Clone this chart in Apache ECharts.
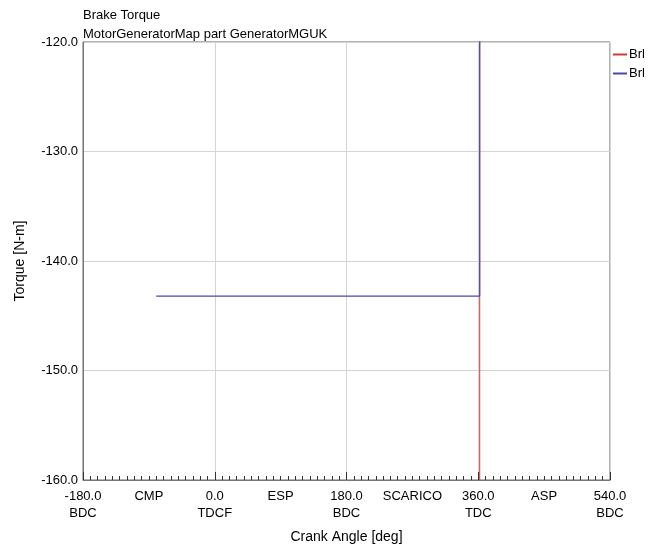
<!DOCTYPE html>
<html><head><meta charset="utf-8">
<script src="https://cdn.jsdelivr.net/npm/echarts@6/dist/echarts.min.js"></script>
<style>html,body{margin:0;padding:0;background:#fff}#c{width:660px;height:552px}</style>
</head><body><div id="c"></div>
<script>
const titleText = 'Brake Torque';
const subtitleText = 'MotorGeneratorMap part GeneratorMGUK';
const xTickValues = [-180, -90, 0, 90, 180, 270, 360, 450, 540];
const xTickLabels = ['-180.0\nBDC', 'CMP', '0.0\nTDCF', 'ESP', '180.0\nBDC', 'SCARICO', '360.0\nTDC', 'ASP', '540.0\nBDC'];
const seriesNames = ['Brl', 'Brl\u200b'];
const redX = [362, 362];
const redY = [-100, -200];
const blueX = [-80, 362, 362];
const blueY = [-143.2, -143.2, -100];

const font = 'Liberation Sans, Arial, sans-serif';
const chart = echarts.init(document.getElementById('c'), null, {renderer: 'canvas'});
const labelMap = {};
xTickValues.forEach((v, i) => labelMap[v] = xTickLabels[i]);
const baseX = {type: 'value', min: -180, max: 540, position: 'bottom'};
chart.setOption({
  animation: false,
  textStyle: {fontFamily: font},
  title: [
    {text: titleText, left: 78, top: 4, textStyle: {fontSize: 13, fontWeight: 'normal', color: '#000', fontFamily: font}},
    {text: subtitleText, left: 78, top: 23, textStyle: {fontSize: 13, fontWeight: 'normal', color: '#000', fontFamily: font}}
  ],
  legend: {
    orient: 'vertical', left: 613, top: 48, itemGap: 6, itemWidth: 14, itemHeight: 2, padding: 0,
    icon: 'rect',
    textStyle: {fontSize: 13, color: '#000', fontFamily: font, padding: [0, 0, 0, -3]},
    data: seriesNames
  },
  grid: {left: 83, right: 50, top: 42, bottom: 72, show: true, borderColor: '#666', borderWidth: 1},
  xAxis: [
    Object.assign({}, baseX, {
      interval: 10,
      axisLine: {show: true, onZero: false, lineStyle: {color: '#777'}},
      axisTick: {show: true, inside: true, length: 4, lineStyle: {color: '#333'}},
      axisLabel: {show: false}, splitLine: {show: false}
    }),
    Object.assign({}, baseX, {
      interval: 90,
      axisLine: {show: false, onZero: false}, axisTick: {show: false}, splitLine: {show: false},
      axisLabel: {show: true, color: '#000', fontSize: 13, lineHeight: 17, margin: 8, fontFamily: font,
        formatter: v => labelMap[v] !== undefined ? labelMap[v] : ''},
      name: 'Crank Angle [deg]', nameLocation: 'middle', nameGap: 50,
      nameTextStyle: {fontSize: 14, color: '#000', fontFamily: font}
    }),
    Object.assign({}, baseX, {
      interval: 180,
      axisLine: {show: false, onZero: false},
      axisTick: {show: true, inside: true, length: 8, lineStyle: {color: '#333'}},
      axisLabel: {show: false},
      splitLine: {show: true, lineStyle: {color: '#d4d4d4', width: 1}}
    })
  ],
  yAxis: {
    type: 'value', min: -160, max: -120, interval: 10,
    axisLine: {show: true, onZero: false, lineStyle: {color: '#777'}},
    axisTick: {show: false},
    axisLabel: {color: '#000', fontSize: 13, margin: 5, fontFamily: font, formatter: v => v.toFixed(1)},
    splitLine: {show: true, lineStyle: {color: '#d4d4d4', width: 1}},
    name: 'Torque [N-m]', nameLocation: 'middle', nameGap: 56,
    nameTextStyle: {fontSize: 14, color: '#000', fontFamily: font}
  },
  series: [
    {name: seriesNames[0], type: 'line', xAxisIndex: 0, symbol: 'none', clip: true,
     lineStyle: {color: '#d03a3a', width: 1}, itemStyle: {color: '#d03a3a'},
     data: redX.map((x, i) => [x, redY[i]])},
    {name: seriesNames[1], type: 'line', xAxisIndex: 0, symbol: 'none', clip: true,
     lineStyle: {color: '#4a4aa6', width: 1.2}, itemStyle: {color: '#4a4aa6'},
     data: blueX.map((x, i) => [x, blueY[i]])}
  ]
});
</script></body></html>
